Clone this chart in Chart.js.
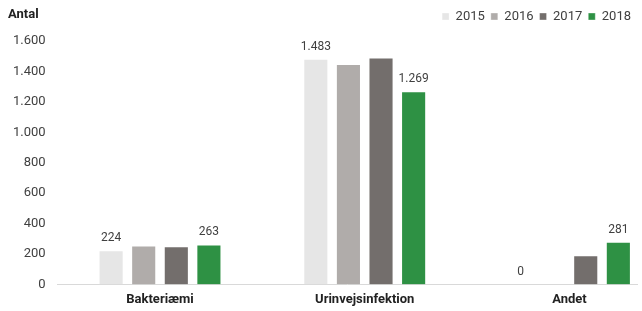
<!DOCTYPE html>
<html>
<head>
<meta charset="utf-8">
<script src="https://cdn.jsdelivr.net/npm/chart.js@4"></script>
<style>
  html, body { margin: 0; padding: 0; background: #fff; }
  #wrap { width: 642px; height: 311px; position: relative; }
</style>
</head>
<body>
<div id="wrap"><canvas id="chart"></canvas></div>
<script>
// data
const categories = ['Bakteriæmi', 'Urinvejsinfektion', 'Andet'];
const years = ['2015', '2016', '2017', '2018'];
const v2015 = [224, 1483, 0];
const v2016 = [255, 1448, null];
const v2017 = [250, 1492, 191];
const v2018 = [263, 1269, 281];
const yTicks = [0, 200, 400, 600, 800, 1000, 1200, 1400, 1600];

const colors = ['#e6e6e6', '#b0acaa', '#736e6c', '#2e9144'];
const labelled = [true, false, false, true];

const fmt = new Intl.NumberFormat('da-DK');

function points(vals) {
	return vals.map(function (v, i) { return { x: i, y: v }; });
}

// numbers above the bars of 2015 and 2018
const barLabels = {
	id: 'barLabels',
	afterDatasetsDraw(chart) {
		const ctx = chart.ctx;
		ctx.save();
		ctx.font = '12px Roboto';
		ctx.fillStyle = '#404040';
		ctx.textAlign = 'center';
		ctx.textBaseline = 'bottom';
		chart.data.datasets.forEach(function (ds, di) {
			if (!labelled[di]) return;
			chart.getDatasetMeta(di).data.forEach(function (bar, i) {
				const v = ds.data[i].y;
				if (v === null) return;
				ctx.fillText(fmt.format(v), bar.x, bar.y - 6);
			});
		});
		ctx.restore();
	}
};

// "Antal" above the value axis
const axisTitle = {
	id: 'axisTitle',
	afterDraw(chart) {
		const ctx = chart.ctx;
		ctx.save();
		ctx.font = 'bold 13px Roboto';
		ctx.fillStyle = '#222';
		ctx.textAlign = 'left';
		ctx.textBaseline = 'middle';
		ctx.fillText('Antal', 8, 15);
		ctx.restore();
	}
};

// a bit more room under the legend
const legendSpace = {
	id: 'legendSpace',
	beforeInit(chart) {
		const fit = chart.legend.fit;
		chart.legend.fit = function () {
			fit.bind(chart.legend)();
			this.height += 8;
		};
	}
};

const allValues = [v2015, v2016, v2017, v2018];

const ctx = document.getElementById('chart').getContext('2d');
const chart = new Chart(ctx, {
	type: 'bar',
	data: {
		datasets: years.map(function (y, i) {
			return {
				label: y,
				data: points(allValues[i]),
				backgroundColor: colors[i],
				borderColor: 'rgba(255,255,255,0.35)',
				borderWidth: 1,
				categoryPercentage: 0.637,
				barPercentage: 0.77
			};
		})
	},
	options: {
		responsive: true,
		maintainAspectRatio: false,
		animation: false,
		layout: { padding: { top: 4, right: 5, left: 1, bottom: -5 } },
		plugins: {
			legend: {
				position: 'top',
				align: 'end',
				labels: {
					boxWidth: 7,
					boxHeight: 7,
					padding: 6,
					color: '#404040',
					font: { family: 'Roboto', size: 13 }
				}
			},
			tooltip: { enabled: false }
		},
		scales: {
			x: {
				type: 'linear',
				min: -0.5,
				max: 2.33,
				offset: false,
				grid: { display: false, drawTicks: false },
				border: { display: true, color: '#d9d9d9' },
				afterBuildTicks: function (scale) {
					scale.ticks = categories.map(function (c, i) { return { value: i }; });
				},
				ticks: {
					color: '#222',
					font: { family: 'Roboto', size: 13, weight: 'bold' },
					padding: 8,
					maxRotation: 0,
					callback: function (v) { return categories[v]; }
				}
			},
			y: {
				min: 0,
				max: 1600,
				grid: { display: false, drawTicks: false },
				border: { display: false },
				afterBuildTicks: function (scale) {
					scale.ticks = yTicks.map(function (t) { return { value: t }; });
				},
				ticks: {
					color: '#404040',
					font: { family: 'Roboto', size: 13 },
					padding: 12,
					callback: function (v) { return fmt.format(v); }
				}
			}
		}
	},
	plugins: [barLabels, axisTitle, legendSpace]
});
</script>
</body>
</html>
